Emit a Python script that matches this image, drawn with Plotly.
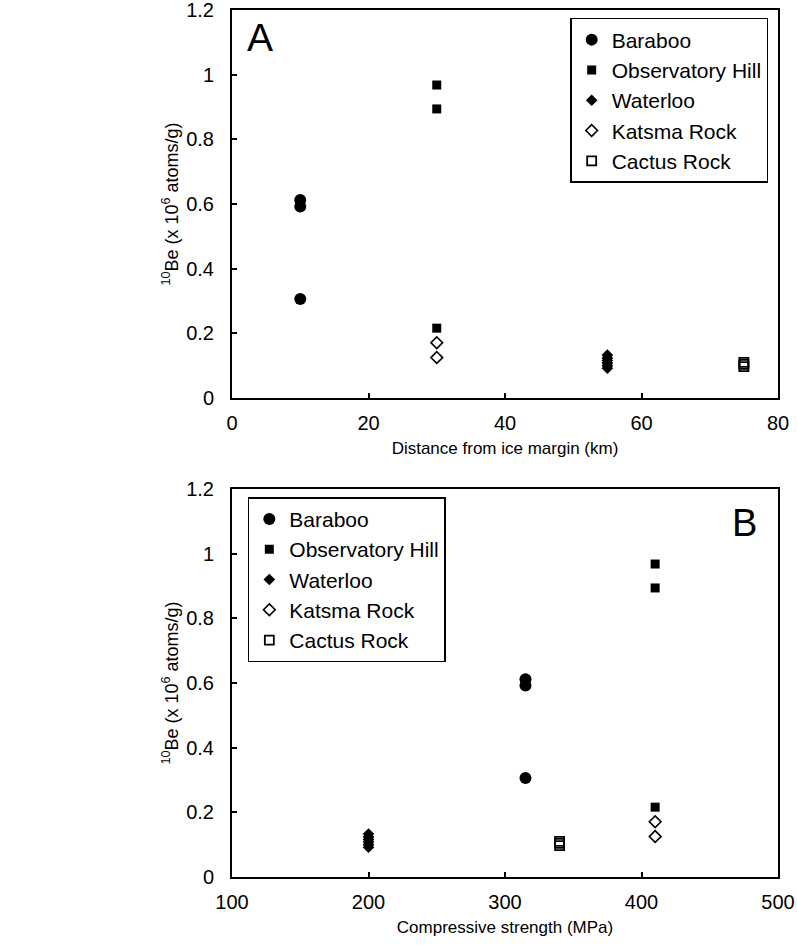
import plotly.graph_objects as go
from plotly.subplots import make_subplots

# ---- data ----
series_names = ["Baraboo", "Observatory Hill", "Waterloo", "Katsma Rock", "Cactus Rock"]

# Panel A: distance from ice margin (km)
dist_baraboo = [10, 10, 10]
dist_obs = [30, 30, 30]
dist_waterloo = [55, 55, 55, 55, 55, 55]
dist_katsma = [30, 30]
dist_cactus = [75, 75, 75]

# Panel B: compressive strength (MPa)
cs_baraboo = [315, 315, 315]
cs_obs = [410, 410, 410]
cs_waterloo = [200, 200, 200, 200, 200, 200]
cs_katsma = [410, 410]
cs_cactus = [340, 340, 340]

# 10Be concentrations (x 10^6 atoms/g)
be_baraboo = [0.612, 0.592, 0.306]
be_obs = [0.968, 0.894, 0.216]
be_waterloo = [0.092, 0.100, 0.108, 0.116, 0.124, 0.133]
be_katsma = [0.171, 0.125]
be_cactus = [0.097, 0.104, 0.110]

x_ticks_a = [0, 20, 40, 60, 80]
x_ticks_b = [100, 200, 300, 400, 500]
y_ticks = [0, 0.2, 0.4, 0.6, 0.8, 1, 1.2]

FONT = "Arial, Liberation Sans, sans-serif"

styles = [
    dict(symbol="circle", size=12, color="black", line=dict(width=0)),
    dict(symbol="square", size=9, color="black", line=dict(width=0)),
    dict(symbol="diamond", size=9, color="black", line=dict(width=0)),
    dict(symbol="diamond-open", size=9, color="black", line=dict(width=1.6, color="black")),
    dict(symbol="square-open", size=9, color="black", line=dict(width=1.8, color="black")),
]

fig = make_subplots(rows=2, cols=1, vertical_spacing=0.105)

xa = [dist_baraboo, dist_obs, dist_waterloo, dist_katsma, dist_cactus]
xb = [cs_baraboo, cs_obs, cs_waterloo, cs_katsma, cs_cactus]
ys = [be_baraboo, be_obs, be_waterloo, be_katsma, be_cactus]

for name, x, y, st in zip(series_names, xa, ys, styles):
    fig.add_trace(go.Scatter(x=x, y=y, mode="markers", name=name, marker=st,
                             legend="legend"), row=1, col=1)
for name, x, y, st in zip(series_names, xb, ys, styles):
    fig.add_trace(go.Scatter(x=x, y=y, mode="markers", name=name, marker=st,
                             legend="legend2"), row=2, col=1)

axis_common = dict(showline=True, linecolor="black", linewidth=2, mirror=True,
                   ticks="inside", ticklen=5, tickwidth=1.5, tickcolor="black",
                   showgrid=False, zeroline=False, automargin=False,
                   ticklabeloverflow="allow",
                   tickfont=dict(family=FONT, size=20, color="black"))

fig.update_xaxes(range=[0, 80], tickvals=x_ticks_a, ticklabelstandoff=6,
                 title=dict(text="Distance from ice margin (km)", standoff=9,
                            font=dict(family=FONT, size=17, color="black")),
                 **axis_common, row=1, col=1)
fig.update_xaxes(range=[100, 500], tickvals=x_ticks_b, ticklabelstandoff=6,
                 title=dict(text="Compressive strength (MPa)", standoff=9,
                            font=dict(family=FONT, size=17, color="black")),
                 **axis_common, row=2, col=1)
ytitle = "<sup>10</sup>Be (x 10<sup>6</sup> atoms/g)"
for r in (1, 2):
    fig.update_yaxes(range=[0, 1.2], tickvals=y_ticks, ticklabelstandoff=12,
                     title=dict(text=ytitle, standoff=3,
                                font=dict(family=FONT, size=18, color="black")),
                     **axis_common, row=r, col=1)

fig.update_layout(
    xaxis=dict(domain=[0, 1]), yaxis=dict(domain=[0.5525, 1.0]),
    xaxis2=dict(domain=[0, 1]), yaxis2=dict(domain=[0.0, 0.4475]),
)

legend_common = dict(bgcolor="white", bordercolor="black", borderwidth=1.5,
                     font=dict(family=FONT, size=21, color="black"),
                     itemwidth=30, tracegroupgap=0)
fig.update_layout(
    width=797, height=948,
    margin=dict(l=232, r=19, t=10, b=71, autoexpand=False),
    paper_bgcolor="white", plot_bgcolor="white",
    showlegend=True,
    legend=dict(x=0.982, y=0.9908, xanchor="right", yanchor="top", **legend_common),
    legend2=dict(x=0.029, y=0.438, xanchor="left", yanchor="top", **legend_common),
    annotations=[
        dict(text="A", x=0.024, y=0.995, xref="paper", yref="paper",
             xanchor="left", yanchor="top", showarrow=False,
             font=dict(family=FONT, size=39, color="black")),
        dict(text="B", x=0.965, y=0.435, xref="paper", yref="paper",
             xanchor="right", yanchor="top", showarrow=False,
             font=dict(family=FONT, size=38, color="black")),
    ],
)

fig.write_html(
    "out.html",
    config={"displayModeBar": False},
    post_script="document.body.style.margin='0px';document.body.style.overflow='hidden';",
)
